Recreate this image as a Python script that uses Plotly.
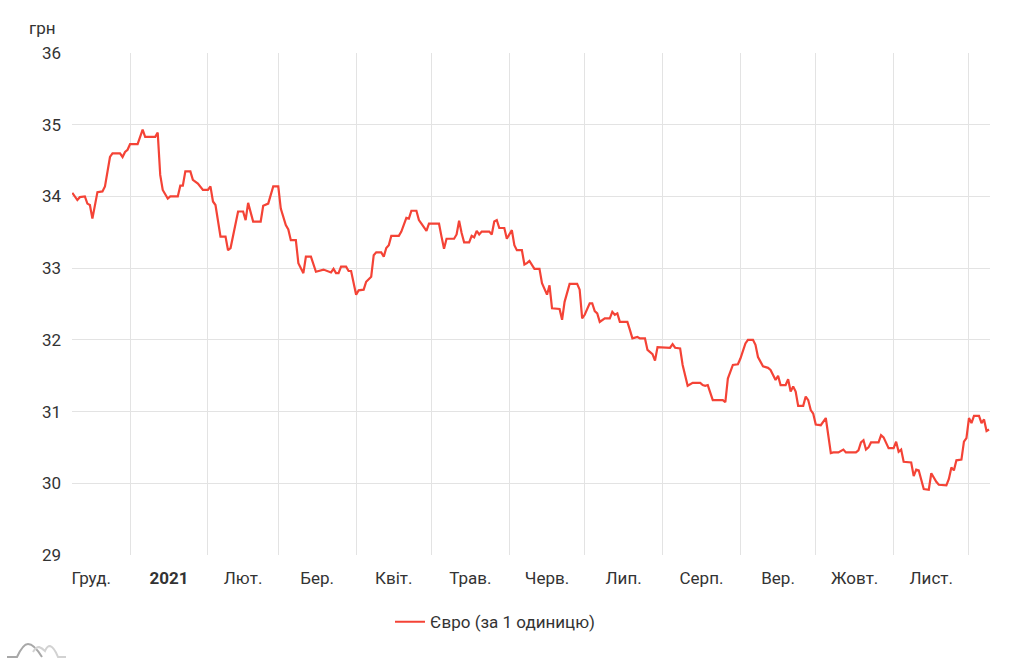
import plotly.graph_objects as go
import pandas as pd

# EUR/UAH official rate (estimated from chart)
dates = [
    "2020-12-09", "2020-12-11", "2020-12-12", "2020-12-14", "2020-12-15", "2020-12-16", "2020-12-17",
    "2020-12-19", "2020-12-21", "2020-12-22", "2020-12-24", "2020-12-25", "2020-12-28", "2020-12-29",
    "2020-12-30", "2020-12-31", "2021-01-01", "2021-01-04", "2021-01-06", "2021-01-07", "2021-01-11",
    "2021-01-12", "2021-01-13", "2021-01-14", "2021-01-16", "2021-01-17", "2021-01-20", "2021-01-21",
    "2021-01-22", "2021-01-23", "2021-01-25", "2021-01-26", "2021-01-28", "2021-01-30", "2021-02-01",
    "2021-02-02", "2021-02-03", "2021-02-04", "2021-02-06", "2021-02-08", "2021-02-09", "2021-02-10",
    "2021-02-13", "2021-02-15", "2021-02-16", "2021-02-17", "2021-02-19", "2021-02-22", "2021-02-23",
    "2021-02-25", "2021-02-27", "2021-03-01", "2021-03-02", "2021-03-04", "2021-03-05", "2021-03-06",
    "2021-03-08", "2021-03-09", "2021-03-11", "2021-03-12", "2021-03-14", "2021-03-16", "2021-03-19",
    "2021-03-21", "2021-03-22", "2021-03-23", "2021-03-24", "2021-03-25", "2021-03-26", "2021-03-28",
    "2021-03-29", "2021-03-30", "2021-04-01", "2021-04-02", "2021-04-04", "2021-04-05", "2021-04-07",
    "2021-04-08", "2021-04-09", "2021-04-11", "2021-04-12", "2021-04-13", "2021-04-14", "2021-04-15",
    "2021-04-18", "2021-04-19", "2021-04-21", "2021-04-22", "2021-04-23", "2021-04-25", "2021-04-26",
    "2021-04-27", "2021-04-29", "2021-04-30", "2021-05-04", "2021-05-05", "2021-05-06", "2021-05-07",
    "2021-05-10", "2021-05-11", "2021-05-12", "2021-05-13", "2021-05-14", "2021-05-16", "2021-05-17",
    "2021-05-18", "2021-05-19", "2021-05-20", "2021-05-21", "2021-05-24", "2021-05-25", "2021-05-26",
    "2021-05-27", "2021-05-28", "2021-05-30", "2021-05-31", "2021-06-02", "2021-06-03", "2021-06-04",
    "2021-06-06", "2021-06-07", "2021-06-08", "2021-06-09", "2021-06-11", "2021-06-13", "2021-06-14",
    "2021-06-16", "2021-06-17", "2021-06-18", "2021-06-21", "2021-06-22", "2021-06-23", "2021-06-24",
    "2021-06-25", "2021-06-28", "2021-06-29", "2021-06-30", "2021-07-01", "2021-07-03", "2021-07-04",
    "2021-07-05", "2021-07-06", "2021-07-07", "2021-07-09", "2021-07-11", "2021-07-12", "2021-07-13",
    "2021-07-14", "2021-07-15", "2021-07-18", "2021-07-19", "2021-07-20", "2021-07-22", "2021-07-23",
    "2021-07-25", "2021-07-26", "2021-07-28", "2021-07-29", "2021-07-30", "2021-08-01", "2021-08-02",
    "2021-08-04", "2021-08-05", "2021-08-06", "2021-08-08", "2021-08-09", "2021-08-11", "2021-08-13",
    "2021-08-16", "2021-08-17", "2021-08-18", "2021-08-19", "2021-08-21", "2021-08-25", "2021-08-26",
    "2021-08-27", "2021-08-29", "2021-08-31", "2021-09-01", "2021-09-03", "2021-09-04", "2021-09-06",
    "2021-09-07", "2021-09-08", "2021-09-10", "2021-09-12", "2021-09-13", "2021-09-15", "2021-09-16",
    "2021-09-17", "2021-09-19", "2021-09-20", "2021-09-21", "2021-09-22", "2021-09-23", "2021-09-24",
    "2021-09-26", "2021-09-27", "2021-09-28", "2021-09-29", "2021-09-30", "2021-10-01", "2021-10-03",
    "2021-10-05", "2021-10-07", "2021-10-08", "2021-10-10", "2021-10-12", "2021-10-13", "2021-10-17",
    "2021-10-18", "2021-10-19", "2021-10-20", "2021-10-21", "2021-10-22", "2021-10-23", "2021-10-26",
    "2021-10-27", "2021-10-28", "2021-10-30", "2021-11-01", "2021-11-02", "2021-11-03", "2021-11-04",
    "2021-11-05", "2021-11-08", "2021-11-09", "2021-11-10", "2021-11-11", "2021-11-13", "2021-11-15",
    "2021-11-16", "2021-11-18", "2021-11-19", "2021-11-22", "2021-11-23", "2021-11-24", "2021-11-25",
    "2021-11-26", "2021-11-28", "2021-11-29", "2021-11-30", "2021-12-01", "2021-12-02", "2021-12-03",
    "2021-12-05", "2021-12-06", "2021-12-07", "2021-12-08", "2021-12-09",
]
euro = [
    34.05, 33.95, 33.99, 34.00, 33.90, 33.88, 33.69,
    34.06, 34.07, 34.14, 34.55, 34.60, 34.60, 34.55,
    34.62, 34.65, 34.73, 34.73, 34.93, 34.83, 34.83,
    34.89, 34.30, 34.09, 33.97, 34.00, 34.00, 34.15,
    34.15, 34.35, 34.35, 34.23, 34.18, 34.09, 34.09,
    34.14, 33.93, 33.88, 33.44, 33.44, 33.25, 33.28,
    33.79, 33.79, 33.67, 33.91, 33.65, 33.65, 33.87,
    33.90, 34.14, 34.14, 33.83, 33.60, 33.54, 33.39,
    33.39, 33.07, 32.93, 33.16, 33.16, 32.95, 32.98,
    32.96, 32.94, 32.99, 32.93, 32.93, 33.02, 33.02,
    32.96, 32.96, 32.63, 32.69, 32.70, 32.81, 32.88,
    33.18, 33.22, 33.22, 33.16, 33.28, 33.32, 33.45,
    33.45, 33.51, 33.70, 33.69, 33.80, 33.80, 33.67,
    33.62, 33.52, 33.62, 33.62, 33.44, 33.27, 33.41,
    33.41, 33.47, 33.66, 33.49, 33.36, 33.36, 33.45,
    33.43, 33.52, 33.47, 33.51, 33.51, 33.47, 33.65,
    33.67, 33.56, 33.56, 33.41, 33.53, 33.32, 33.25,
    33.25, 33.05, 33.07, 33.10, 32.99, 32.99, 32.79,
    32.63, 32.76, 32.44, 32.43, 32.28, 32.53, 32.67,
    32.78, 32.78, 32.70, 32.30, 32.35, 32.51, 32.51,
    32.40, 32.37, 32.25, 32.30, 32.30, 32.39, 32.35,
    32.37, 32.25, 32.25, 32.14, 32.02, 32.04, 32.02,
    32.02, 31.86, 31.80, 31.71, 31.90, 31.90, 31.89,
    31.89, 31.94, 31.89, 31.88, 31.65, 31.36, 31.40,
    31.40, 31.37, 31.36, 31.37, 31.16, 31.16, 31.13,
    31.46, 31.65, 31.66, 31.74, 31.95, 32.00, 32.00,
    31.93, 31.76, 31.63, 31.61, 31.58, 31.44, 31.50,
    31.37, 31.37, 31.45, 31.28, 31.35, 31.28, 31.08,
    31.08, 31.21, 31.16, 31.02, 30.97, 30.82, 30.81,
    30.91, 30.42, 30.43, 30.43, 30.47, 30.43, 30.43,
    30.46, 30.57, 30.60, 30.47, 30.50, 30.57, 30.57,
    30.67, 30.64, 30.49, 30.49, 30.58, 30.44, 30.47,
    30.30, 30.29, 30.10, 30.19, 30.18, 29.92, 29.91,
    30.14, 30.02, 29.98, 29.97, 30.06, 30.22, 30.18,
    30.32, 30.33, 30.58, 30.63, 30.91, 30.84, 30.94,
    30.94, 30.84, 30.89, 30.73, 30.75,
]

month_starts = ["2020-12-01", "2021-01-01", "2021-02-01", "2021-03-01", "2021-04-01", "2021-05-01",
                "2021-06-01", "2021-07-01", "2021-08-01", "2021-09-01", "2021-10-01", "2021-11-01",
                "2021-12-01", "2022-01-01"]
month_labels = ["Груд.", "<b>2021</b>", "Лют.", "Бер.", "Квіт.", "Трав.", "Черв.", "Лип.", "Серп.",
                "Вер.", "Жовт.", "Лист."]
y_ticks = [29, 30, 31, 32, 33, 34, 35, 36]

series_name = "Євро (за 1 одиницю)"
line_color = "#f44336"
grid_color = "#e3e3e3"
text_color = "#333333"
font_family = "Roboto, 'Noto Sans', sans-serif"

W, H = 1024, 663
L, R, T, B = 72, 34, 53, 108
PW, PH = W - L - R, H - T - B


def px(xp, yp):
    """pixel position -> paper coordinates (for decorations only)"""
    return (xp - L) / PW, (H - B - yp) / PH


def path(points_cmds):
    out = []
    for cmd, pts in points_cmds:
        coords = " ".join("%.5f,%.5f" % px(*p) for p in pts)
        out.append(cmd + " " + coords)
    return " ".join(out)


ms = pd.to_datetime(month_starts)
mid_months = [ms[i] + (ms[i + 1] - ms[i]) / 2 for i in range(len(month_labels))]

fig = go.Figure()
fig.add_trace(go.Scatter(
    x=pd.to_datetime(dates), y=euro, mode="lines", name=series_name,
    line=dict(color=line_color, width=2.2),
))

logo1 = path([("M", [(7, 657)]), ("L", [(17, 657)]), ("Q", [(23, 644), (28, 644)]),
              ("Q", [(34, 644), (42, 657)])])
logo2 = path([("M", [(33, 652)]), ("Q", [(36, 647), (39, 647)]), ("Q", [(42, 648), (45, 651)]),
              ("Q", [(47, 646), (50, 646)]), ("Q", [(54, 647), (58, 657)]), ("L", [(66, 657)])])

fig.update_layout(
    width=W, height=H,
    margin=dict(l=L, r=R, t=T, b=B),
    paper_bgcolor="white", plot_bgcolor="white",
    font=dict(family=font_family, size=17, color=text_color),
    showlegend=True,
    legend=dict(orientation="h", x=(495 - L) / PW, xanchor="center", y=-0.098, yanchor="top",
                font=dict(size=17, color=text_color)),
    xaxis=dict(
        type="date",
        range=["2020-12-08 21:00", "2021-12-09 09:00"],
        tickmode="array",
        tickvals=mid_months,
        ticktext=month_labels,
        showgrid=False, zeroline=False, showline=False, ticks="",
        ticklabelstandoff=11,
        tickfont=dict(size=17, color=text_color),
        minor=dict(showgrid=True, gridcolor=grid_color, gridwidth=1,
                   tickmode="array", tickvals=list(ms), ticks=""),
    ),
    yaxis=dict(
        range=[29, 36], tickmode="array", tickvals=y_ticks,
        showgrid=True, gridcolor=grid_color, gridwidth=1,
        zeroline=False, showline=False, ticks="",
        ticklabelstandoff=10,
        tickfont=dict(size=17, color=text_color),
    ),
    annotations=[dict(
        text="грн", xref="paper", yref="paper", x=px(27, 0)[0], y=px(0, 28)[1],
        xanchor="left", yanchor="middle", showarrow=False,
        font=dict(size=17, color=text_color),
    )],
    shapes=[
        dict(type="path", xref="paper", yref="paper", path=logo1,
             line=dict(color="#a8a8a8", width=2)),
        dict(type="path", xref="paper", yref="paper", path=logo2,
             line=dict(color="#d2d2d2", width=2)),
    ],
)

fig.write_html("out.html")
